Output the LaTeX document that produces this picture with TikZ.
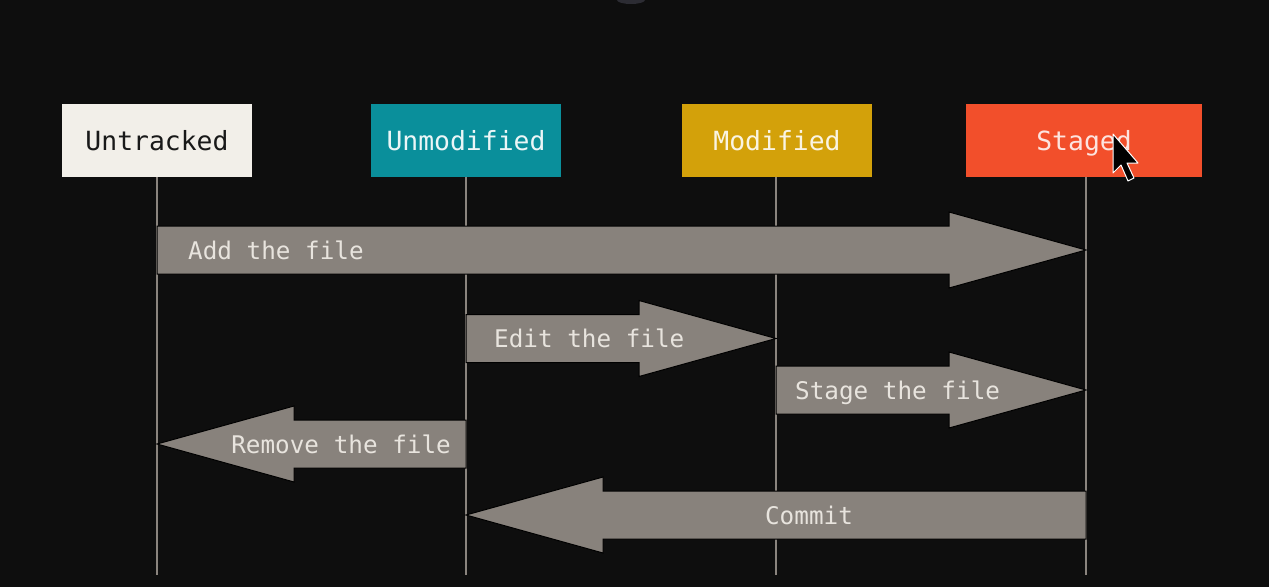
\documentclass[tikz,border=0pt]{standalone}
\usepackage{fontspec}
\setmonofont{DejaVu Sans Mono}
\usetikzlibrary{calc}
\definecolor{bg}{HTML}{0E0E0E}
\definecolor{cUntracked}{HTML}{F2EFE9}
\definecolor{cUnmodified}{HTML}{0A8F9B}
\definecolor{cModified}{HTML}{D3A10A}
\definecolor{cStaged}{HTML}{F24F2B}
\definecolor{fatgray}{HTML}{88827C}
\definecolor{fattext}{HTML}{E8E4DE}
\definecolor{lifegray}{HTML}{8A847E}
\definecolor{topknob}{HTML}{2C2C33}

% fat block arrow from a tail coordinate to a tip coordinate on the same row
\newcommand{\fatarrow}[2]{%
  \path[fat] let \p1=(#1), \p2=(#2), \n2={ifthenelse(\x2>\x1,\x2-137,\x2+137)} in
    (\x1,\y1+24pt) -- (\n2*1pt,\y1+24pt) -- (\n2*1pt,\y1+38pt) -- (\x2,\y2)
    -- (\n2*1pt,\y1-38pt) -- (\n2*1pt,\y1-24pt) -- (\x1,\y1-24pt) -- cycle;%
}

\begin{document}
\begin{tikzpicture}[x=1pt,y=-1pt,
  state/.style={minimum height=73pt, inner sep=0pt, text height=20pt, text depth=0pt,
    font=\ttfamily\fontsize{26.4}{30}\selectfont},
  life/.style={draw=lifegray, line width=1.8pt},
  fat/.style={fill=fatgray, draw=black, line width=1pt, line join=miter},
  fatlabel/.style={text=fattext, inner sep=0pt, text height=18.5pt, text depth=0pt,
    font=\ttfamily\fontsize{24.3}{30}\selectfont},
]
\fill[bg] (0,0) rectangle (1269,587);
\useasboundingbox (0,0) rectangle (1269,587);

% small screen element at the top edge
\fill[topknob] (631,0) ellipse [x radius=14pt, y radius=4pt];

% states
\node[state, minimum width=190pt, fill=cUntracked, text=black!90] (untracked) at (157,140.5) {Untracked};
\node[state, minimum width=190pt, fill=cUnmodified, text=white!92!cUnmodified] (unmodified) at (466,140.5) {Unmodified};
\node[state, minimum width=190pt, fill=cModified, text=white!88!cModified] (modified) at (777,140.5) {Modified};
\node[state, minimum width=236pt, fill=cStaged, text=white!85!cStaged] (staged) at (1084,140.5) {Staged};

% lifelines
\coordinate (untrackedEnd) at (untracked.south |- 0,575);
\coordinate (unmodifiedEnd) at (unmodified.south |- 0,575);
\coordinate (modifiedTop) at (776,177);
\coordinate (modifiedEnd) at (776,575);
\coordinate (stagedTop) at (1086,177);
\coordinate (stagedEnd) at (1086,575);
\draw[life] (untracked.south) -- (untrackedEnd);
\draw[life] (unmodified.south) -- (unmodifiedEnd);
\draw[life] (modifiedTop) -- (modifiedEnd);
\draw[life] (stagedTop) -- (stagedEnd);

% transitions
\coordinate (addA) at (157,250);   \coordinate (addB) at (1086,250);
\coordinate (editA) at (466,338.5); \coordinate (editB) at (776,338.5);
\coordinate (stageA) at (776,390); \coordinate (stageB) at (1086,390);
\coordinate (removeA) at (466,444); \coordinate (removeB) at (157,444);
\coordinate (commitA) at (1086,515); \coordinate (commitB) at (466,515);

\fatarrow{addA}{addB}
\fatarrow{editA}{editB}
\fatarrow{stageA}{stageB}
\fatarrow{removeA}{removeB}
\fatarrow{commitA}{commitB}

\node[fatlabel, anchor=west] (addL) at (188,250) {Add the file};
\node[fatlabel, anchor=west] (editL) at (494,338.5) {Edit the file};
\node[fatlabel, anchor=west] (stageL) at (795,390) {Stage the file};
\node[fatlabel, anchor=east] (removeL) at (451,444) {Remove the file};
\node[fatlabel] (commitL) at (809,515) {Commit};

% pointer
\filldraw[fill=black, draw=white, line width=1pt, line join=round]
  (1113,134) -- (1113,173) -- (1121,165) -- (1128,181) -- (1134,178)
  -- (1127,163) -- (1138,163) -- cycle;
\end{tikzpicture}
\end{document}
